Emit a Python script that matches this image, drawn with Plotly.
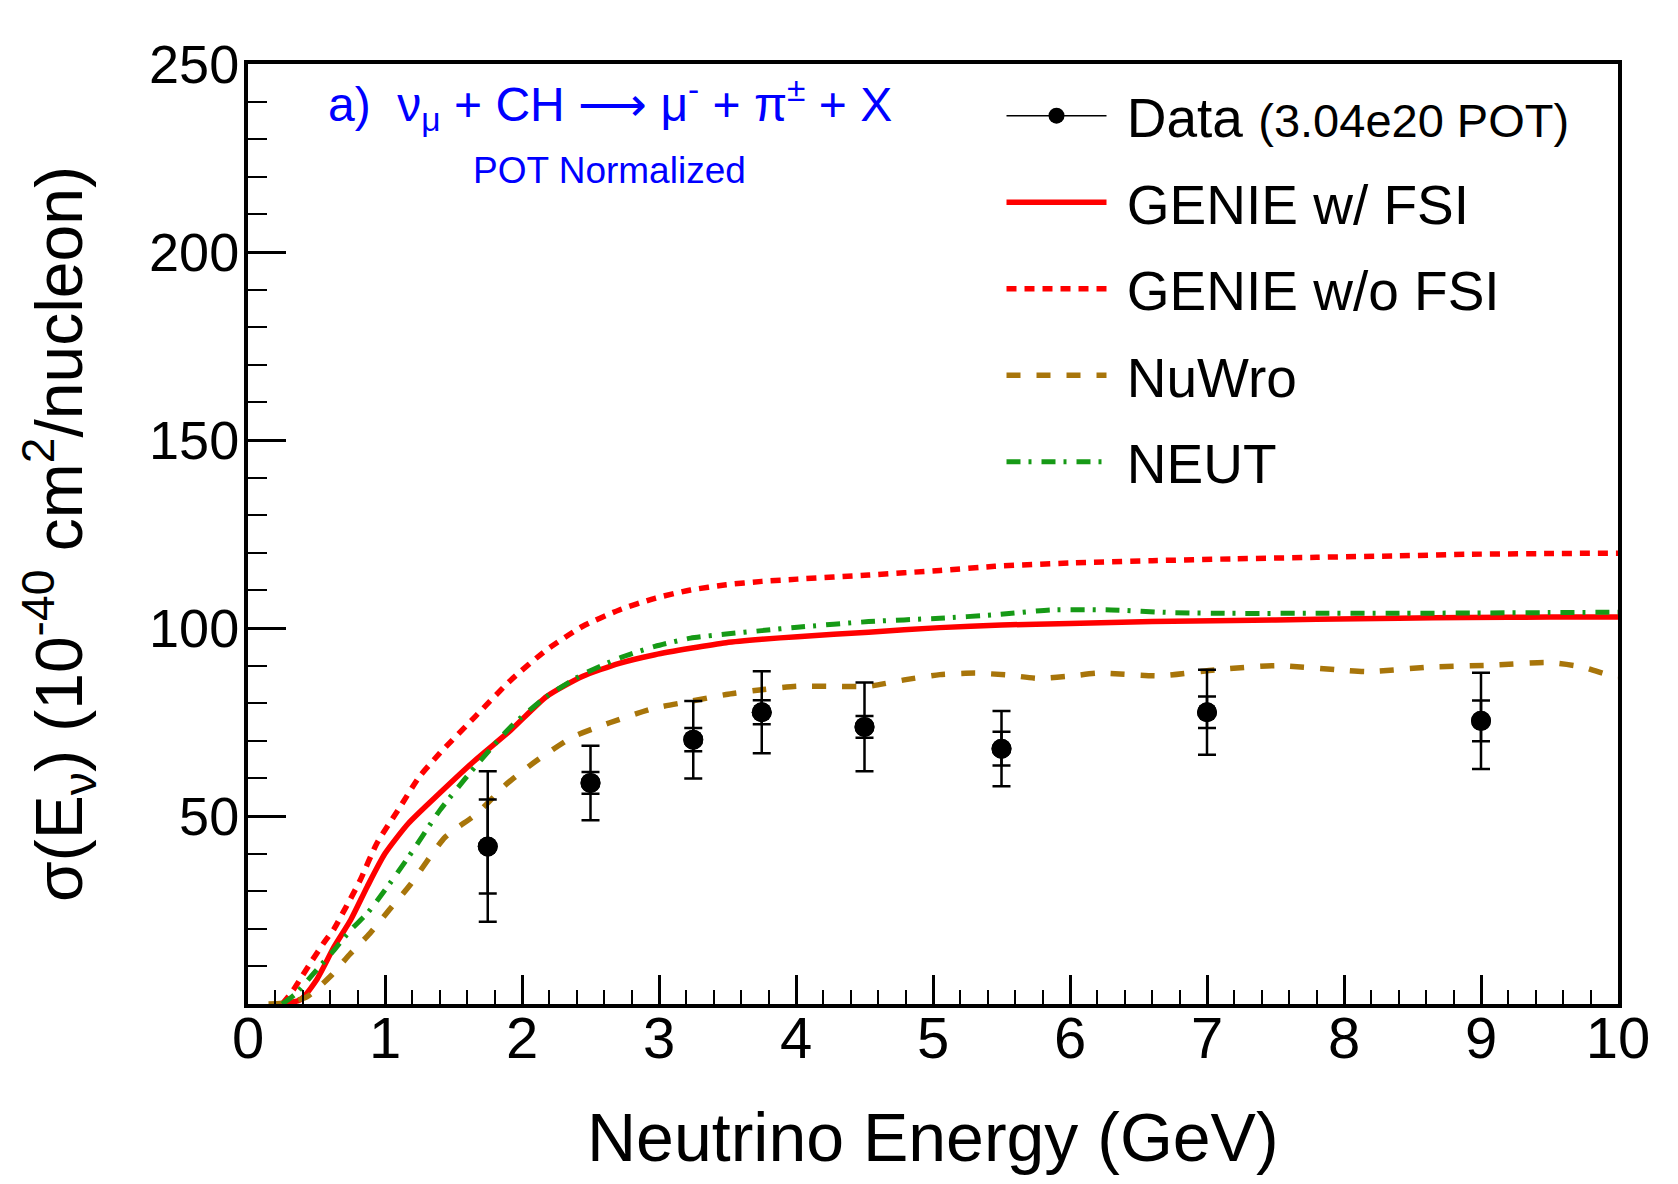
import plotly.graph_objects as go

# ---------------- data ----------------
data_x = [1.75, 2.5, 3.25, 3.75, 4.5, 5.5, 7.0, 9.0]
data_y = [41.9, 58.8, 70.3, 77.6, 73.7, 67.9, 77.6, 75.3]
data_err_tot = [20.0, 9.9, 10.3, 10.9, 11.8, 10.0, 11.3, 12.8]
data_err_in = [12.5, 2.9, 3.1, 3.2, 2.9, 4.5, 4.2, 5.4]

genie_fsi_x = [0.23, 0.38, 0.5, 0.63, 0.75, 0.87, 1.0, 1.17, 1.4, 1.66, 1.92, 2.18, 2.44,
               2.71, 2.97, 3.23, 3.49, 3.75, 4.01, 4.53, 5.05, 5.5, 6.0, 6.6, 7.2, 7.8,
               8.4, 8.9, 9.5, 10.0]
genie_fsi_y = [0, 1.1, 6.4, 15.3, 22.4, 31.2, 40.0, 48.0, 56.1, 64.9, 72.9, 81.8, 87.1,
               90.6, 92.9, 94.6, 96.1, 97.0, 97.7, 98.9, 100.1, 100.8, 101.2, 101.7, 102.0,
               102.3, 102.6, 102.8, 102.9, 102.9]

genie_nofsi_x = [0.25, 0.33, 0.4, 0.47, 0.55, 0.63, 0.69, 0.75, 0.82, 0.94, 1.11, 1.25, 1.4,
                 1.66, 1.92, 2.18, 2.44, 2.71, 2.97, 3.23, 3.49, 3.75, 4.01, 4.53, 5.05,
                 5.45, 6.0, 6.6, 7.2, 7.8, 8.4, 8.9, 9.5, 10.0]
genie_nofsi_y = [0, 3.7, 7.7, 11.7, 16.1, 20.1, 24.1, 28.1, 33.0, 42.7, 52.4, 60.4, 66.7,
                 76.5, 86.2, 94.2, 100.4, 104.8, 107.9, 110.1, 111.5, 112.4, 113.0, 114.1,
                 115.3, 116.4, 117.3, 117.9, 118.4, 118.8, 119.2, 119.6, 119.8, 119.9]

nuwro_x = [0.15, 0.27, 0.43, 0.6, 0.74, 0.89, 1.03, 1.18, 1.44, 1.67, 1.89, 2.11, 2.37,
           2.64, 2.97, 3.23, 3.49, 3.75, 4.01, 4.27, 4.53, 4.79, 5.05, 5.31, 5.54, 5.77,
           6.0, 6.21, 6.66, 7.07, 7.51, 7.95, 8.18, 8.62, 9.06, 9.49, 9.73, 9.93, 10.0]
nuwro_y = [0, 0.3, 1.9, 7.3, 13.1, 18.8, 25.0, 31.5, 44.4, 50.6, 58.6, 64.8, 71.0,
           74.8, 78.7, 80.5, 82.3, 83.6, 84.5, 84.5, 84.5, 86.2, 87.6, 88.0, 87.5, 86.6,
           87.2, 88.0, 87.3, 88.9, 90.0, 88.9, 88.4, 89.6, 90.1, 90.8, 89.7, 87.5, 87.0]

neut_x = [0.25, 0.35, 0.5, 0.63, 0.75, 0.87, 1.0, 1.17, 1.4, 1.66, 1.92, 2.18, 2.44, 2.71,
          2.97, 3.23, 3.49, 3.75, 4.01, 4.53, 5.05, 5.45, 5.86, 6.3, 6.74, 7.18, 7.8,
          8.35, 9.0, 9.5, 10.0]
neut_y = [0, 2.8, 9.0, 14.4, 19.7, 24.1, 30.3, 39.0, 51.5, 63.2, 73.8, 81.8, 87.6, 92.0,
          95.1, 97.3, 98.4, 99.3, 100.2, 101.7, 102.6, 103.5, 104.8, 104.8, 104.1, 103.9,
          103.9, 103.9, 104.0, 104.1, 104.2]

x_ticks = [0, 1, 2, 3, 4, 5, 6, 7, 8, 9, 10]
y_ticks = [50, 100, 150, 200, 250]

FONT = "Liberation Sans, Arial, Helvetica, sans-serif"
RED = "#ff0000"
BROWN = "#a8750a"
GREEN = "#169a16"
NB = "\u00a0"

fig = go.Figure()

fig.add_trace(go.Scatter(x=[None], y=[None], mode="lines+markers",
                         name=NB + "Data <span style='font-size:47px'>(3.04e20 POT)</span>",
                         line=dict(color="black", width=1.5), marker=dict(color="black", size=20),
                         legendgroup="d"))
fig.add_trace(go.Scatter(x=genie_fsi_x, y=genie_fsi_y, mode="lines", name=NB + "GENIE w/ FSI",
                         line=dict(color=RED, width=5.5, shape="spline", smoothing=0.6),
                         legendgroup="a"))
fig.add_trace(go.Scatter(x=genie_nofsi_x, y=genie_nofsi_y, mode="lines", name=NB + "GENIE w/o FSI",
                         line=dict(color=RED, width=5.5, dash="10px,8px", shape="spline", smoothing=0.6),
                         legendgroup="b"))
fig.add_trace(go.Scatter(x=nuwro_x, y=nuwro_y, mode="lines", name=NB + "NuWro",
                         line=dict(color=BROWN, width=5.5, dash="14px,16px", shape="spline", smoothing=0.6),
                         legendgroup="c"))
fig.add_trace(go.Scatter(x=neut_x, y=neut_y, mode="lines", name=NB + "NEUT",
                         line=dict(color=GREEN, width=5, dash="14px,8px,3px,10px", shape="spline", smoothing=0.6),
                         legendgroup="e"))

# data: total errors and inner errors
fig.add_trace(go.Scatter(x=data_x, y=data_y, mode="markers", showlegend=False,
                         marker=dict(color="black", size=20),
                         error_y=dict(type="data", array=data_err_tot, color="black", thickness=2.5, width=9)))
fig.add_trace(go.Scatter(x=data_x, y=data_y, mode="markers", showlegend=False,
                         marker=dict(color="black", size=20),
                         error_y=dict(type="data", array=data_err_in, color="black", thickness=2.5, width=9)))

axis_common = dict(showline=True, linewidth=4, linecolor="black", mirror=True,
                   showgrid=False, zeroline=False, ticks="inside", tickcolor="black",
                   tickwidth=2.5)

fig.update_xaxes(range=[0, 10], tickvals=x_ticks, ticklen=29, ticklabelstandoff=-20,
                 tickfont=dict(family=FONT, size=58, color="black"),
                 minor=dict(tick0=0, dtick=0.2, ticklen=14, tickwidth=2, ticks="inside", tickcolor="black"),
                 **axis_common)
fig.update_yaxes(range=[0, 250], tickvals=y_ticks, ticklen=38, ticklabelstandoff=-6,
                 tickfont=dict(family=FONT, size=54, color="black"),
                 minor=dict(tick0=0, dtick=10, ticklen=19, tickwidth=2, ticks="inside", tickcolor="black"),
                 **axis_common)

fig.update_layout(
    width=1678, height=1184,
    margin=dict(l=248, r=60, t=64, b=180),
    paper_bgcolor="white", plot_bgcolor="white",
    font=dict(family=FONT, color="black"),
    legend=dict(x=0.55, y=0.99, xanchor="left", yanchor="top", bgcolor="rgba(0,0,0,0)",
                font=dict(family=FONT, size=55, color="black"), traceorder="grouped",
                tracegroupgap=12, itemwidth=100),
    annotations=[
        dict(text="a)  ν<sub>μ</sub> + CH ⟶ μ<sup>-</sup> + π<sup>±</sup> + X", xref="paper", yref="paper",
             x=0.0569, y=0.9574, xanchor="left", yanchor="middle", showarrow=False,
             font=dict(family=FONT, size=48, color="#0000ff")),
        dict(text="POT Normalized", xref="paper", yref="paper", x=0.2642, y=0.8862,
             xanchor="center", yanchor="middle", showarrow=False,
             font=dict(family=FONT, size=37, color="#0000ff")),
        dict(text="Neutrino Energy (GeV)", xref="paper", yref="paper", x=0.5, y=-0.1415,
             xanchor="center", yanchor="middle", showarrow=False,
             font=dict(family=FONT, size=68, color="black")),
        dict(text="σ(E<sub>ν</sub>) (10<sup>-40</sup> cm<sup>2</sup>/nucleon)", xref="paper", yref="paper",
             x=-0.138, y=0.5, xanchor="center", yanchor="middle", showarrow=False, textangle=-90,
             font=dict(family=FONT, size=66, color="black")),
    ],
)

fig.write_html("out.html")
